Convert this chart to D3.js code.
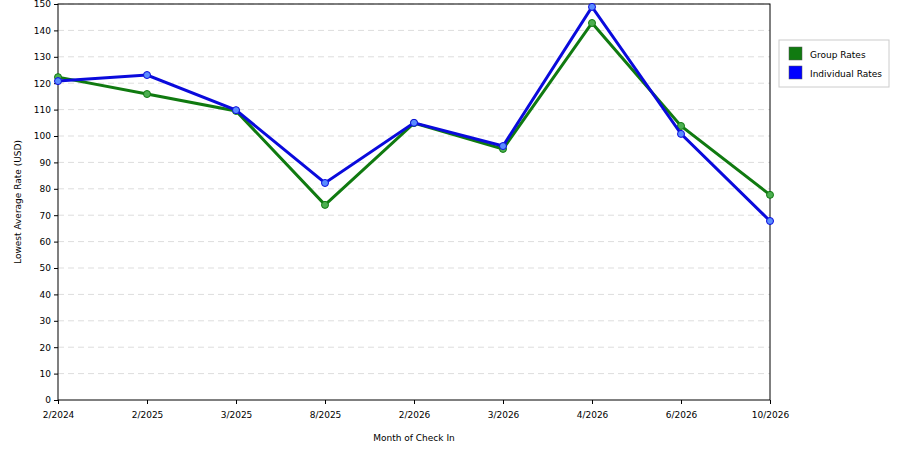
<!DOCTYPE html><html><head><script src="https://cdn.jsdelivr.net/npm/d3@7"></script>
<style>body{margin:0;background:#fff}text{font-family:"DejaVu Sans",sans-serif}</style></head><body><svg id="c" width="900" height="450"></svg><script>
const months=["2/2024","2/2025","3/2025","8/2025","2/2026","3/2026","4/2026","6/2026","10/2026"];
const groupRates=[122.3,115.9,109.5,73.9,104.9,95.1,142.8,103.8,77.7];
const individualRates=[120.8,123.1,109.8,82.2,105,96.2,148.9,100.8,67.8];
const yTicks=d3.range(0,151,10);
const svg=d3.select("#c");
const x=d3.scalePoint().domain(months).range([58,770]);
const y=d3.scaleLinear().domain([0,150]).range([400,4]);
svg.append("g").selectAll("line").data(yTicks.slice(1)).join("line").attr("x1",58).attr("x2",770).attr("y1",d=>y(d)).attr("y2",d=>y(d)).attr("stroke","#ddd").attr("stroke-dasharray","6,4");
svg.append("rect").attr("x",58).attr("y",4).attr("width",712).attr("height",396).attr("fill","none").attr("stroke","#000");
const ya=svg.append("g").attr("transform","translate(58,0)").call(d3.axisLeft(y).tickValues(yTicks).tickSize(4).tickFormat(d3.format("d")));
const xa=svg.append("g").attr("transform","translate(0,400)").call(d3.axisBottom(x).tickSize(4));
[ya,xa].forEach(a=>{a.select(".domain").remove();a.selectAll("text").attr("font-size",9).attr("font-family","DejaVu Sans").attr("fill","#000");});
xa.selectAll("text").attr("dy","1.2em");
svg.append("text").attr("x",414).attr("y",441).attr("text-anchor","middle").attr("font-size",9).text("Month of Check In");
svg.append("text").attr("transform","translate(21,202) rotate(-90)").attr("text-anchor","middle").attr("font-size",9).text("Lowest Average Rate (USD)");
const line=d3.line().x((d,i)=>x(months[i])).y(d=>y(d));
[[groupRates,"#107a10","#4caf50"],[individualRates,"#0a0adc","#5a8cff"]].forEach(([data,c,pc])=>{
 svg.append("path").attr("d",line(data)).attr("fill","none").attr("stroke",c).attr("stroke-width",3);
 svg.append("g").selectAll("circle").data(data).join("circle").attr("cx",(d,i)=>x(months[i])).attr("cy",d=>y(d)).attr("r",3.5).attr("fill",pc).attr("stroke",c).attr("stroke-width",1);
});
const lg=svg.append("g");
lg.append("rect").attr("x",779).attr("y",40).attr("width",110).attr("height",47).attr("fill","#fff").attr("stroke","#ccc");
[["Group Rates","#107a10"],["Individual Rates","#0000ff"]].forEach(([t,c],i)=>{
 lg.append("rect").attr("x",789).attr("y",47+i*19).attr("width",13).attr("height",13).attr("fill",c).attr("stroke","#555").attr("stroke-width",0.5);
 lg.append("text").attr("x",810).attr("y",58+i*19).attr("font-size",9).text(t);
});
</script></body></html>
